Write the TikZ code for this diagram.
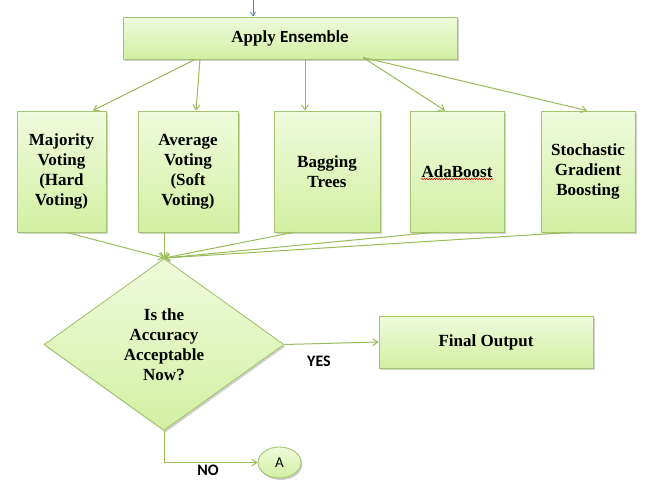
\documentclass[tikz,border=0pt]{standalone}
\usepackage{fontspec}
\setmainfont{Liberation Serif}
\newfontfamily\calib{Carlito}
\usetikzlibrary{shapes.geometric,shadows,arrows.meta,decorations.pathmorphing}
\definecolor{gline}{HTML}{9BBB59}
\definecolor{gborder}{HTML}{A5C46E}
\definecolor{gtop}{HTML}{EFFBDC}
\definecolor{gbot}{HTML}{D3EFA3}
\definecolor{bline}{HTML}{4F81BD}
\tikzset{
  gbox/.style={draw=gborder, line width=0.9pt, top color=gtop, bottom color=gbot,
    drop shadow={shadow xshift=1.5pt, shadow yshift=-2pt, opacity=0.3, fill=black!60},
    font=\bfseries\fontsize{17}{20}\selectfont, align=center, inner sep=0pt},
  conn/.style={draw=gline, line width=1pt, -{Straight Barb[length=5pt,width=7pt]}},
  lbl/.style={font=\calib\bfseries\fontsize{16}{18}\selectfont, inner sep=0pt}
}
\begin{document}
\begin{tikzpicture}[x=1pt,y=-1pt]
\useasboundingbox (0,0) rectangle (650,493);
\fill[white] (0,0) rectangle (650,493);
% nodes
\node[gbox, minimum width=334pt, minimum height=42pt] (ens) at (290,38) {Apply {\calib\bfseries Ensemble}};
\node[gbox, minimum width=89pt, minimum height=121pt] (maj) at (61.5,171.5) {Majority\\Voting\\(Hard\\Voting)};
\node[gbox, minimum width=100pt, minimum height=121pt] (avg) at (188,171.5) {Average\\Voting\\(Soft\\Voting)};
\node[gbox, minimum width=106pt, minimum height=121pt] (bag) at (327,171.5) {Bagging\\Trees};
\node[gbox, minimum width=94pt, minimum height=121pt] (ada) at (457,171.5) {AdaBoost};
\node[gbox, minimum width=94pt, minimum height=121pt] (sto) at (588,171.5) {Stochastic\\Gradient\\Boosting};
\node[gbox, diamond, minimum width=240pt, minimum height=172pt] (dec) at (164,344.5) {Is the\\Accuracy\\Acceptable\\Now?};
\node[gbox, minimum width=214pt, minimum height=52pt] (fin) at (486,342) {Final Output};
\node[gbox, ellipse, minimum width=43pt, minimum height=31pt, font=\calib\fontsize{15}{16}\selectfont] (A) at (279.5,462.5) {A};
% spell-check underline
\coordinate (sq1) at ([xshift=-36pt,yshift=-7.5pt]ada.center);
\coordinate (sq2) at ([xshift=36pt,yshift=-7.5pt]ada.center);
\draw[red, line width=0.5pt, decorate, decoration={snake, amplitude=0.8pt, segment length=2.5pt}] (sq1) -- (sq2);
% incoming arrow
\coordinate (topin) at (253,0);
\draw[bline, line width=0.7pt, -{Straight Barb[length=4pt,width=5pt]}] (topin) -- (topin |- ens.north);
% fan out
\draw[conn] ([xshift=-95pt]ens.south) -- ([xshift=31.5pt]maj.north);
\draw[conn] ([xshift=-90pt]ens.south) -- ([xshift=8pt]avg.north);
\draw[conn] ([xshift=15pt]ens.south) -- ([xshift=-22pt]bag.north);
\draw[conn] ([xshift=73pt,yshift=2pt]ens.south) -- ([xshift=-12pt]ada.north);
\draw[conn] ([xshift=73pt,yshift=2pt]ens.south) -- ([xshift=-1pt]sto.north);
% fan in
\draw[conn] ([xshift=5.5pt]maj.south) -- (dec.north);
\draw[conn] ([xshift=-24pt]avg.south) -- (dec.north);
\draw[conn] ([xshift=-34pt]bag.south) -- (dec.north);
\draw[conn] ([xshift=-24pt]ada.south) -- (dec.north);
\draw[conn] ([xshift=-18pt]sto.south) -- (dec.north);
% decision outputs
\draw[conn] (dec.east) -- (fin.west);
\draw[conn] (dec.south) |- (A.west);
\node[lbl] (yes) at (319,361) {YES};
\node[lbl] (no) at (208,470) {NO};
\end{tikzpicture}
\end{document}
